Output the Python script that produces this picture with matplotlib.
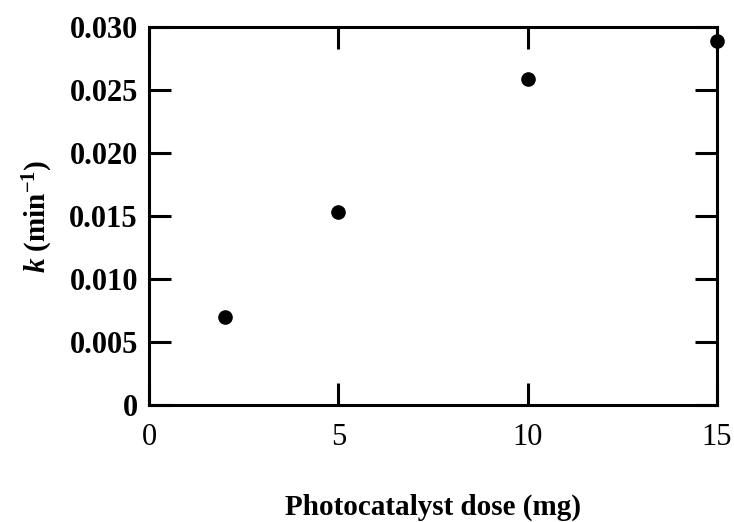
import matplotlib.pyplot as plt
from matplotlib.ticker import FuncFormatter

dose = [2, 5, 10, 15]
k_rate = [0.0070, 0.0153, 0.0259, 0.0289]
x_ticks = [0, 5, 10, 15]
y_ticks = [0, 0.005, 0.010, 0.015, 0.020, 0.025, 0.030]

plt.rcParams['font.family'] = 'Liberation Serif'
plt.rcParams['mathtext.fontset'] = 'custom'
plt.rcParams['mathtext.rm'] = 'Liberation Serif:bold'
plt.rcParams['mathtext.it'] = 'Liberation Serif:bold:italic'
plt.rcParams['mathtext.bf'] = 'Liberation Serif:bold'

fig = plt.figure(figsize=(7.34, 5.22), dpi=100)
ax = fig.add_axes([149 / 734, 1 - 405 / 522, (717 - 149) / 734, (405 - 27) / 522])

ax.plot(dose, k_rate, 'o', color='black', markersize=9.5, clip_on=False, zorder=5)

ax.set_xlim(0, 15)
ax.set_ylim(0, 0.030)
ax.set_xticks(x_ticks)
ax.set_yticks(y_ticks)
ax.yaxis.set_major_formatter(FuncFormatter(lambda v, p: '0' if v == 0 else '%.3f' % v))

for s in ax.spines.values():
    s.set_linewidth(2.2)
ax.tick_params(direction='in', length=16, width=2.2, top=True, right=True,
               labelsize=22)
ax.tick_params(axis='y', pad=8)
ax.tick_params(axis='x', pad=13)
for lbl in ax.get_yticklabels():
    lbl.set_fontweight('bold')

ax.set_xlabel('Photocatalyst dose (mg)', fontsize=21, fontweight='bold', labelpad=30)
ax.set_ylabel(r'$k$ (min$^{-1}$)', fontsize=21, fontweight='bold', labelpad=10)

fig.savefig('out.png', dpi=100)
